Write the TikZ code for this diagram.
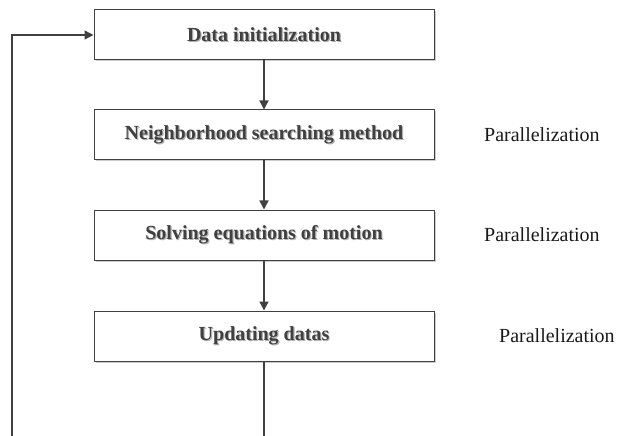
\documentclass[tikz,border=0pt]{standalone}
\usepackage{fontspec}
\setmainfont{Liberation Serif}
\usetikzlibrary{arrows.meta,shadows}
\definecolor{ink}{HTML}{404040}
\newcommand\shd[1]{\makebox[0pt][l]{\hspace{1.2pt}\raisebox{-1.2pt}{\color{black!30}#1}}#1}
\tikzset{
  stepbox/.style={draw=ink, line width=1pt, fill=white, minimum width=340pt, minimum height=50pt,
    inner sep=0pt, font=\fontsize{20}{24}\selectfont\bfseries, text=ink,
    drop shadow={shadow xshift=1.5pt, shadow yshift=-1.5pt, fill=black!20, opacity=1}},
  plabel/.style={font=\fontsize{20}{24}\selectfont, anchor=west, inner sep=0pt, text=black!90},
  conn/.style={draw=ink, line width=1.3pt, -{Triangle[length=9pt,width=9pt]}},
  plain/.style={draw=ink, line width=1.3pt}
}
\begin{document}
\begin{tikzpicture}[x=1pt,y=1pt]
\useasboundingbox (0,0) rectangle (625,-436);
\node[stepbox] (init) at (264,-35) {\shd{Data initialization}};
\node[stepbox] (nbr) at (264,-135) {\shd{Neighborhood searching method}};
\node[stepbox] (solve) at (264,-235) {\shd{Solving equations of motion}};
\node[stepbox] (upd) at (264,-336) {\shd{Updating datas}};
\node[plabel] (p1) at (484,-135) {Parallelization};
\node[plabel] (p2) at (484,-235) {Parallelization};
\node[plabel] (p3) at (499,-336) {Parallelization};
\coordinate (bend) at (264,-436);
\coordinate (loop) at (12,-436);
\draw[conn] (init) -- (nbr);
\draw[conn] (nbr) -- (solve);
\draw[conn] (solve) -- (upd);
\draw[plain] (upd.south) -- (bend);
\draw[conn] (loop) |- (init.west);
\end{tikzpicture}
\end{document}
